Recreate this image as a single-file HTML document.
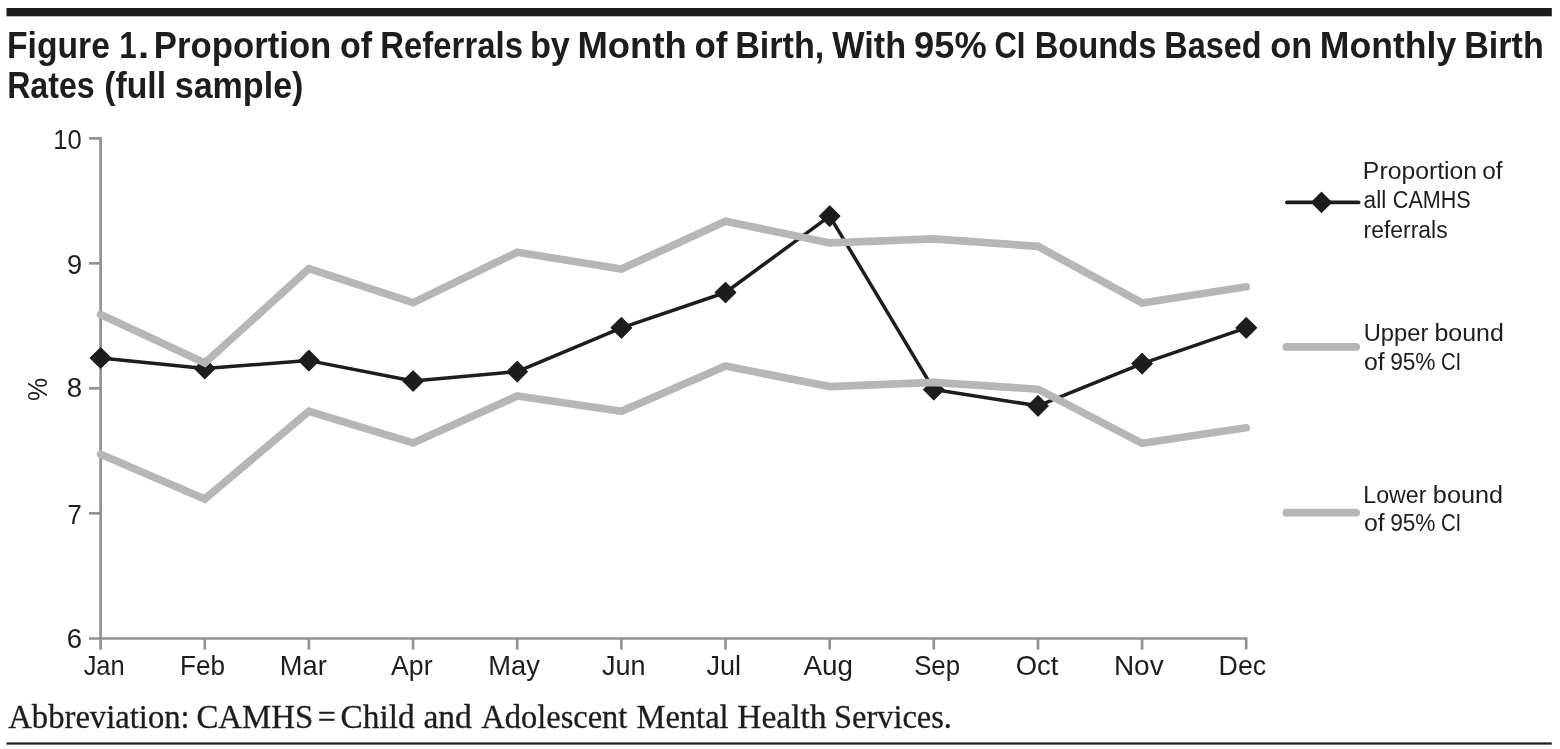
<!DOCTYPE html>
<html lang="en"><head><meta charset="utf-8"><title>Figure 1. Proportion of Referrals by Month of Birth</title>
<style>
html,body{margin:0;padding:0;background:#fff;}
body{width:1560px;height:749px;overflow:hidden;position:relative;}
svg{position:absolute;left:0;top:0;display:block;}
text{font-family:"Liberation Sans",sans-serif;fill:#1d1d1b;}
.ttl{font-weight:bold;font-size:36px;}
.ax{font-size:27px;}
.mo{font-size:27.5px;}
.lg{font-size:23.3px;}
.ft{font-family:"Liberation Serif",serif;font-size:33px;stroke:#1d1d1b;stroke-width:0.3px;}
</style></head><body>
<svg width="1560" height="749" viewBox="0 0 1560 749">
<rect x="6.5" y="8" width="1545.3" height="8.3" fill="#1d1d1b"/>
<rect x="6.5" y="742.4" width="1545.3" height="2.2" fill="#1d1d1b"/>
<g fill="none" stroke="#939191" stroke-width="2.7">
<path d="M89,138.4 H100.6 V638.5"/>
<path d="M89,638.5 H1246.2 V649.6"/>
<path d="M89,263.3 H100.6"/>
<path d="M89,388.3 H100.6"/>
<path d="M89,513.3 H100.6"/>
<path d="M100.6,638.5 V649.6"/>
<path d="M204.8,638.5 V649.6"/>
<path d="M308.9,638.5 V649.6"/>
<path d="M413.1,638.5 V649.6"/>
<path d="M517.2,638.5 V649.6"/>
<path d="M621.4,638.5 V649.6"/>
<path d="M725.5,638.5 V649.6"/>
<path d="M829.7,638.5 V649.6"/>
<path d="M933.8,638.5 V649.6"/>
<path d="M1038.0,638.5 V649.6"/>
<path d="M1142.1,638.5 V649.6"/>
</g>
<polyline points="100.6,358.0 204.8,368.5 308.9,360.6 413.1,381.0 517.2,371.6 621.4,327.8 725.5,292.5 829.7,216.1 933.8,389.6 1038.0,405.8 1142.1,363.6 1246.2,327.8" fill="none" stroke="#1d1d1b" stroke-width="3.5" stroke-linejoin="round"/>
<g fill="#1d1d1b" stroke="#1d1d1b" stroke-width="1.2" stroke-linejoin="round">
<path d="M90.4,358.0 L100.6,347.8 L110.8,358.0 L100.6,368.2 Z"/>
<path d="M194.6,368.5 L204.8,358.3 L214.9,368.5 L204.8,378.7 Z"/>
<path d="M298.7,360.6 L308.9,350.4 L319.1,360.6 L308.9,370.8 Z"/>
<path d="M402.9,381.0 L413.1,370.8 L423.3,381.0 L413.1,391.2 Z"/>
<path d="M507.0,371.6 L517.2,361.4 L527.4,371.6 L517.2,381.8 Z"/>
<path d="M611.1,327.8 L621.4,317.6 L631.6,327.8 L621.4,338.0 Z"/>
<path d="M715.3,292.5 L725.5,282.3 L735.7,292.5 L725.5,302.7 Z"/>
<path d="M819.5,216.1 L829.7,205.9 L839.9,216.1 L829.7,226.3 Z"/>
<path d="M923.6,389.6 L933.8,379.4 L944.0,389.6 L933.8,399.8 Z"/>
<path d="M1027.8,405.8 L1038.0,395.6 L1048.2,405.8 L1038.0,416.0 Z"/>
<path d="M1131.9,363.6 L1142.1,353.4 L1152.3,363.6 L1142.1,373.8 Z"/>
<path d="M1236.0,327.8 L1246.2,317.6 L1256.5,327.8 L1246.2,338.0 Z"/>
</g>
<polyline points="100.6,314.5 204.8,363.0 308.9,268.7 413.1,302.7 517.2,252.3 621.4,269.0 725.5,221.3 829.7,242.9 933.8,238.8 1038.0,246.4 1142.1,303.0 1246.2,286.8" fill="none" stroke="#b6b6b6" stroke-width="7.7" stroke-linejoin="miter" stroke-miterlimit="10" stroke-linecap="round"/>
<polyline points="100.6,454.3 204.8,499.0 308.9,411.3 413.1,443.0 517.2,396.0 621.4,411.3 725.5,366.0 829.7,386.6 933.8,382.3 1038.0,389.2 1142.1,443.3 1246.2,427.8" fill="none" stroke="#b6b6b6" stroke-width="7.7" stroke-linejoin="miter" stroke-miterlimit="10" stroke-linecap="round"/>
<path d="M1287,202.4 H1358.6" stroke="#1d1d1b" stroke-width="3.8" stroke-linecap="round"/>
<path d="M1311.5,202.35 L1321.5,192.3 L1331.5,202.35 L1321.5,212.4 Z" fill="#1d1d1b" stroke="#1d1d1b" stroke-width="1.2" stroke-linejoin="round"/>
<path d="M1286.4,346.9 H1356.1" stroke="#b6b6b6" stroke-width="7.8" stroke-linecap="round"/>
<path d="M1286.4,512.7 H1356.1" stroke="#b6b6b6" stroke-width="7.8" stroke-linecap="round"/>
<text class="ttl" y="57.8"><tspan x="7.06" textLength="102.82" lengthAdjust="spacingAndGlyphs">Figure</tspan> <tspan x="119.34" textLength="17.46" lengthAdjust="spacingAndGlyphs">1</tspan><tspan x="138.00" textLength="11.22" lengthAdjust="spacingAndGlyphs">.</tspan> <tspan x="153.79" textLength="177.57" lengthAdjust="spacingAndGlyphs">Proportion</tspan> <tspan x="339.88" textLength="32.10" lengthAdjust="spacingAndGlyphs">of</tspan> <tspan x="380.32" textLength="142.64" lengthAdjust="spacingAndGlyphs">Referrals</tspan> <tspan x="529.92" textLength="40.04" lengthAdjust="spacingAndGlyphs">by</tspan> <tspan x="577.47" textLength="109.36" lengthAdjust="spacingAndGlyphs">Month</tspan> <tspan x="694.45" textLength="32.94" lengthAdjust="spacingAndGlyphs">of</tspan> <tspan x="735.13" textLength="89.25" lengthAdjust="spacingAndGlyphs">Birth,</tspan> <tspan x="832.30" textLength="73.85" lengthAdjust="spacingAndGlyphs">With</tspan> <tspan x="914.14" textLength="72.53" lengthAdjust="spacingAndGlyphs">95%</tspan> <tspan x="994.41" textLength="31.05" lengthAdjust="spacingAndGlyphs">CI</tspan> <tspan x="1034.63" textLength="121.82" lengthAdjust="spacingAndGlyphs">Bounds</tspan> <tspan x="1164.25" textLength="97.23" lengthAdjust="spacingAndGlyphs">Based</tspan> <tspan x="1270.17" textLength="41.96" lengthAdjust="spacingAndGlyphs">on</tspan> <tspan x="1319.83" textLength="136.40" lengthAdjust="spacingAndGlyphs">Monthly</tspan> <tspan x="1464.23" textLength="79.60" lengthAdjust="spacingAndGlyphs">Birth</tspan></text>
<text class="ttl" y="97.6"><tspan x="7.17" textLength="87.53" lengthAdjust="spacingAndGlyphs">Rates</tspan> <tspan x="104.26" textLength="61.87" lengthAdjust="spacingAndGlyphs">(full</tspan> <tspan x="174.72" textLength="128.70" lengthAdjust="spacingAndGlyphs">sample)</tspan></text>
<text class="ft" y="728.3"><tspan x="8.25" textLength="181.42" lengthAdjust="spacingAndGlyphs">Abbreviation:</tspan> <tspan x="196.46" textLength="116.86" lengthAdjust="spacingAndGlyphs">CAMHS</tspan> <tspan x="317.80" textLength="18.08" lengthAdjust="spacingAndGlyphs">=</tspan> <tspan x="340.54" textLength="74.13" lengthAdjust="spacingAndGlyphs">Child</tspan> <tspan x="423.43" textLength="48.49" lengthAdjust="spacingAndGlyphs">and</tspan> <tspan x="481.35" textLength="145.95" lengthAdjust="spacingAndGlyphs">Adolescent</tspan> <tspan x="636.51" textLength="92.11" lengthAdjust="spacingAndGlyphs">Mental</tspan> <tspan x="737.18" textLength="89.39" lengthAdjust="spacingAndGlyphs">Health</tspan> <tspan x="833.99" textLength="117.97" lengthAdjust="spacingAndGlyphs">Services.</tspan></text>
<text class="lg" y="179.0"><tspan x="1362.88" textLength="114.22" lengthAdjust="spacingAndGlyphs">Proportion</tspan> <tspan x="1482.25" textLength="20.38" lengthAdjust="spacingAndGlyphs">of</tspan></text>
<text class="lg" y="207.7"><tspan x="1363.53" textLength="22.69" lengthAdjust="spacingAndGlyphs">all</tspan> <tspan x="1392.84" textLength="77.91" lengthAdjust="spacingAndGlyphs">CAMHS</tspan></text>
<text class="lg" y="238.0"><tspan x="1363.52" textLength="84.11" lengthAdjust="spacingAndGlyphs">referrals</tspan></text>
<text class="lg" y="340.5"><tspan x="1363.72" textLength="64.64" lengthAdjust="spacingAndGlyphs">Upper</tspan> <tspan x="1434.49" textLength="69.36" lengthAdjust="spacingAndGlyphs">bound</tspan></text>
<text class="lg" y="370.0"><tspan x="1363.94" textLength="20.70" lengthAdjust="spacingAndGlyphs">of</tspan> <tspan x="1390.13" textLength="45.44" lengthAdjust="spacingAndGlyphs">95%</tspan> <tspan x="1440.91" textLength="20.28" lengthAdjust="spacingAndGlyphs">CI</tspan></text>
<text class="lg" y="502.5"><tspan x="1363.31" textLength="63.14" lengthAdjust="spacingAndGlyphs">Lower</tspan> <tspan x="1432.87" textLength="70.20" lengthAdjust="spacingAndGlyphs">bound</tspan></text>
<text class="lg" y="531.3"><tspan x="1363.94" textLength="20.70" lengthAdjust="spacingAndGlyphs">of</tspan> <tspan x="1390.13" textLength="45.44" lengthAdjust="spacingAndGlyphs">95%</tspan> <tspan x="1440.91" textLength="20.28" lengthAdjust="spacingAndGlyphs">CI</tspan></text>
<text class="ax" y="148.5"><tspan x="53.36" textLength="28.43" lengthAdjust="spacingAndGlyphs">10</tspan></text>
<text class="ax" y="274.0"><tspan x="66.94" textLength="15.15" lengthAdjust="spacingAndGlyphs">9</tspan></text>
<text class="ax" y="397.3"><tspan x="66.72" textLength="15.39" lengthAdjust="spacingAndGlyphs">8</tspan></text>
<text class="ax" y="524.1"><tspan x="67.47" textLength="14.30" lengthAdjust="spacingAndGlyphs">7</tspan></text>
<text class="ax" y="647.5"><tspan x="66.77" textLength="15.34" lengthAdjust="spacingAndGlyphs">6</tspan></text>
<text class="mo" y="675.2"><tspan x="83.64" textLength="41.07" lengthAdjust="spacingAndGlyphs">Jan</tspan> <tspan x="179.97" textLength="44.91" lengthAdjust="spacingAndGlyphs">Feb</tspan> <tspan x="279.87" textLength="46.90" lengthAdjust="spacingAndGlyphs">Mar</tspan> <tspan x="391.10" textLength="41.43" lengthAdjust="spacingAndGlyphs">Apr</tspan> <tspan x="488.37" textLength="51.53" lengthAdjust="spacingAndGlyphs">May</tspan> <tspan x="602.11" textLength="43.50" lengthAdjust="spacingAndGlyphs">Jun</tspan> <tspan x="706.51" textLength="34.57" lengthAdjust="spacingAndGlyphs">Jul</tspan> <tspan x="803.40" textLength="49.51" lengthAdjust="spacingAndGlyphs">Aug</tspan> <tspan x="914.13" textLength="45.99" lengthAdjust="spacingAndGlyphs">Sep</tspan> <tspan x="1015.65" textLength="42.63" lengthAdjust="spacingAndGlyphs">Oct</tspan> <tspan x="1113.91" textLength="49.75" lengthAdjust="spacingAndGlyphs">Nov</tspan> <tspan x="1218.61" textLength="47.57" lengthAdjust="spacingAndGlyphs">Dec</tspan></text>
<text class="ax" transform="translate(46.94,400.97) rotate(-90) scale(0.9682,1.0211)">%</text>
</svg></body></html>
